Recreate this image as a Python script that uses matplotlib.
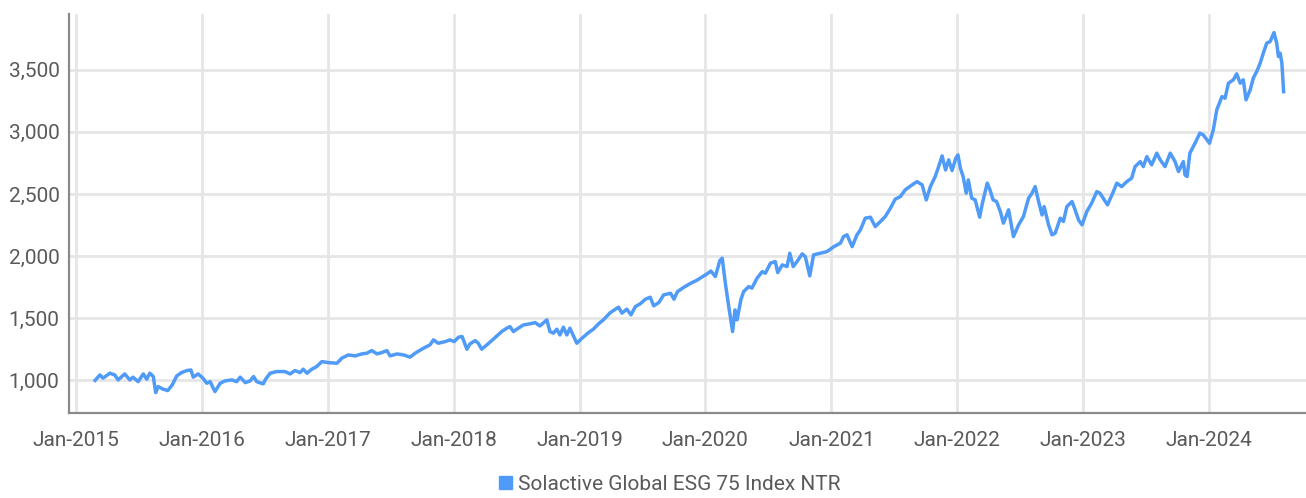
import matplotlib
matplotlib.use("Agg")
import matplotlib.pyplot as plt
import matplotlib.dates as mdates
from matplotlib.patches import Patch
from matplotlib.ticker import FuncFormatter
import pandas as pd

# index level (approximate)
dates = [
    # 2015
    "2015-02-25", "2015-03-11", "2015-03-20", "2015-04-09", "2015-04-23", "2015-05-03",
    "2015-05-22", "2015-06-06", "2015-06-15", "2015-06-30", "2015-07-15", "2015-07-25",
    "2015-08-03", "2015-08-13", "2015-08-20", "2015-08-27", "2015-09-11", "2015-09-24",
    "2015-10-07", "2015-10-20", "2015-11-03", "2015-11-18", "2015-11-30", "2015-12-07",
    "2015-12-21",
    # 2016
    "2016-01-04", "2016-01-15", "2016-01-25", "2016-02-03", "2016-02-08", "2016-02-23",
    "2016-03-08", "2016-03-28", "2016-04-11", "2016-04-21", "2016-05-06", "2016-05-20",
    "2016-05-30", "2016-06-08", "2016-06-27", "2016-07-04", "2016-07-17", "2016-08-05",
    "2016-08-29", "2016-09-13", "2016-09-27", "2016-10-12", "2016-10-21", "2016-11-01",
    "2016-11-15", "2016-11-29", "2016-12-14",
    # 2017
    "2017-01-03", "2017-01-27", "2017-02-10", "2017-03-01", "2017-03-21", "2017-04-09",
    "2017-04-24", "2017-05-08", "2017-05-23", "2017-06-06", "2017-06-21", "2017-06-30",
    "2017-07-20", "2017-08-08", "2017-08-27", "2017-09-11", "2017-10-05", "2017-10-24",
    "2017-11-03", "2017-11-17", "2017-12-07", "2017-12-21",
    # 2018
    "2018-01-02", "2018-01-15", "2018-01-25", "2018-02-08", "2018-02-17", "2018-03-04",
    "2018-03-13", "2018-03-23", "2018-04-07", "2018-04-21", "2018-05-06", "2018-05-20",
    "2018-06-04", "2018-06-13", "2018-06-23", "2018-07-07", "2018-07-22", "2018-08-10",
    "2018-08-25", "2018-09-08", "2018-09-28", "2018-10-07", "2018-10-17", "2018-10-27",
    "2018-11-05", "2018-11-15", "2018-11-25", "2018-12-04", "2018-12-24",
    # 2019
    "2019-01-08", "2019-01-27", "2019-02-10", "2019-02-25", "2019-03-11", "2019-03-31",
    "2019-04-24", "2019-05-04", "2019-05-18", "2019-05-30", "2019-06-12", "2019-06-26",
    "2019-07-11", "2019-07-25", "2019-08-04", "2019-08-19", "2019-09-02", "2019-09-22",
    "2019-10-02", "2019-10-12", "2019-10-31", "2019-11-20", "2019-12-09", "2019-12-24",
    # 2020
    "2020-01-06", "2020-01-17", "2020-01-30", "2020-02-12", "2020-02-19", "2020-02-28",
    "2020-03-06", "2020-03-20", "2020-03-27", "2020-04-02", "2020-04-13", "2020-04-21",
    "2020-05-06", "2020-05-15", "2020-05-30", "2020-06-14", "2020-06-23", "2020-07-08",
    "2020-07-22", "2020-07-29", "2020-08-11", "2020-08-25", "2020-09-02", "2020-09-12",
    "2020-09-23", "2020-10-08", "2020-10-17", "2020-10-30", "2020-11-10", "2020-11-30",
    "2020-12-19",
    # 2021
    "2021-01-08", "2021-01-27", "2021-02-05", "2021-02-15", "2021-03-02", "2021-03-16",
    "2021-03-26", "2021-04-09", "2021-04-24", "2021-05-08", "2021-05-23", "2021-06-06",
    "2021-06-21", "2021-07-05", "2021-07-20", "2021-08-03", "2021-08-23", "2021-09-06",
    "2021-09-21", "2021-10-03", "2021-10-15", "2021-10-29", "2021-11-08", "2021-11-18",
    "2021-11-28", "2021-12-07", "2021-12-17", "2021-12-28",
    # 2022
    "2022-01-03", "2022-01-10", "2022-01-18", "2022-01-27", "2022-02-02", "2022-02-12",
    "2022-02-22", "2022-03-07", "2022-03-15", "2022-03-29", "2022-04-06", "2022-04-15",
    "2022-04-25", "2022-05-06", "2022-05-15", "2022-05-30", "2022-06-13", "2022-06-28",
    "2022-07-12", "2022-07-27", "2022-08-06", "2022-08-15", "2022-08-25", "2022-09-04",
    "2022-09-10", "2022-09-23", "2022-10-03", "2022-10-12", "2022-10-27", "2022-11-05",
    "2022-11-15", "2022-11-30", "2022-12-09", "2022-12-19", "2022-12-29",
    # 2023
    "2023-01-12", "2023-01-26", "2023-02-10", "2023-02-19", "2023-03-13", "2023-03-28",
    "2023-04-09", "2023-04-23", "2023-05-08", "2023-05-22", "2023-06-01", "2023-06-16",
    "2023-06-25", "2023-07-05", "2023-07-19", "2023-08-03", "2023-08-13", "2023-08-27",
    "2023-09-11", "2023-09-25", "2023-10-05", "2023-10-19", "2023-10-24", "2023-10-30",
    "2023-11-07", "2023-11-22", "2023-12-06", "2023-12-16",
    # 2024
    "2024-01-03", "2024-01-14", "2024-01-24", "2024-02-08", "2024-02-17", "2024-02-27",
    "2024-03-12", "2024-03-22", "2024-04-01", "2024-04-10", "2024-04-18", "2024-04-30",
    "2024-05-09", "2024-05-19", "2024-05-29", "2024-06-07", "2024-06-17", "2024-06-27",
    "2024-07-08", "2024-07-16", "2024-07-21", "2024-07-26", "2024-07-31", "2024-08-05",
]

values = [
    # 2015
    1000, 1044, 1018, 1058, 1044, 1004,
    1052, 1004, 1026, 990, 1052, 1010,
    1058, 1031, 902, 950, 929, 918,
    964, 1036, 1063, 1079, 1084, 1026,
    1052,
    # 2016
    1018, 977, 990, 937, 910, 977,
    996, 1004, 990, 1026, 982, 996,
    1031, 990, 972, 1010, 1058, 1071,
    1071, 1052, 1079, 1063, 1090, 1058,
    1090, 1111, 1151,
    # 2017
    1143, 1138, 1179, 1205, 1197, 1213,
    1219, 1240, 1213, 1224, 1240, 1197,
    1213, 1205, 1187, 1219, 1259, 1286,
    1326, 1299, 1312, 1326,
    # 2018
    1312, 1348, 1353, 1251, 1294, 1320,
    1299, 1251, 1286, 1320, 1358, 1393,
    1420, 1433, 1393, 1420, 1446, 1455,
    1465, 1438, 1487, 1393, 1380, 1412,
    1366, 1428, 1366, 1420, 1299,
    # 2019
    1339, 1385, 1412, 1455, 1487, 1545,
    1589, 1541, 1573, 1527, 1594, 1616,
    1653, 1669, 1600, 1626, 1688, 1701,
    1653, 1714, 1750, 1782, 1808, 1835,
    # 2020
    1857, 1880, 1835, 1964, 1983, 1782,
    1648, 1393, 1567, 1487, 1648, 1714,
    1755, 1742, 1822, 1875, 1862, 1943,
    1956, 1867, 1929, 1916, 2023, 1916,
    1956, 2018, 1996, 1841, 2010, 2023,
    2036,
    # 2021
    2076, 2104, 2157, 2171, 2076, 2171,
    2211, 2305, 2313, 2237, 2278, 2318,
    2385, 2458, 2479, 2533, 2573, 2599,
    2573, 2452, 2559, 2640, 2720, 2806,
    2693, 2774, 2688, 2790,
    # 2022
    2814, 2707, 2640, 2506, 2613, 2466,
    2452, 2313, 2426, 2587, 2533, 2452,
    2439, 2358, 2265, 2372, 2157, 2251,
    2318, 2466, 2506, 2559, 2439, 2331,
    2398, 2251, 2171, 2184, 2305, 2278,
    2398, 2439, 2372, 2291, 2251,
    # 2023
    2358, 2426, 2519, 2506, 2412, 2506,
    2587, 2559, 2599, 2627, 2720, 2760,
    2720, 2800, 2734, 2828, 2774, 2720,
    2828, 2760, 2680, 2760, 2653, 2640,
    2828, 2908, 2989, 2975,
    # 2024
    2908, 3015, 3176, 3283, 3270, 3391,
    3418, 3466, 3391, 3418, 3257, 3337,
    3431, 3485, 3552, 3632, 3713, 3726,
    3798, 3713, 3605, 3632, 3552, 3323,
]

series_name = "Solactive Global ESG 75 Index NTR"
y_ticks = [1000, 1500, 2000, 2500, 3000, 3500]
x_ticks = [f"{y}-01-01" for y in range(2015, 2025)]

plt.rcParams["font.family"] = ["Roboto", "DejaVu Sans"]
line_color = "#4f9bf7"
text_color = "#5a5a5a"

df = pd.DataFrame({"date": pd.to_datetime(dates), "value": values})

fig = plt.figure(figsize=(13.06, 4.98), dpi=100)
ax = fig.add_axes([0.053, 0.171, 0.947, 0.801])

ax.plot(df["date"], df["value"], color=line_color, lw=2.5, solid_joinstyle="round")

ax.set_xlim(pd.Timestamp("2014-12-12"), pd.Timestamp("2024-10-09"))
ax.set_ylim(739, 3948)
ax.set_xticks(pd.to_datetime(x_ticks))
ax.xaxis.set_major_formatter(mdates.DateFormatter("%b-%Y"))
ax.set_yticks(y_ticks)
ax.yaxis.set_major_formatter(FuncFormatter(lambda v, p: f"{int(v):,}"))

ax.grid(True, color="#e6e6e6", lw=2.0)
ax.set_axisbelow(True)
for s in ["top", "right"]:
    ax.spines[s].set_visible(False)
ax.spines["left"].set_color("#8a8a8a")
ax.spines["left"].set_linewidth(1.6)
ax.spines["bottom"].set_color("#8a8a8a")
ax.spines["bottom"].set_linewidth(1.6)
ax.tick_params(axis="both", length=0, labelsize=15, colors=text_color)
ax.tick_params(axis="x", pad=13)
ax.tick_params(axis="y", pad=7)

handle = Patch(color=line_color, label=series_name)
fig.legend(handles=[handle], loc="center", bbox_to_anchor=(0.513, 0.028),
           frameon=False, fontsize=15, labelcolor=text_color,
           handlelength=0.6, handleheight=0.6, handletextpad=0.3)

fig.savefig("out.png", dpi=100)
